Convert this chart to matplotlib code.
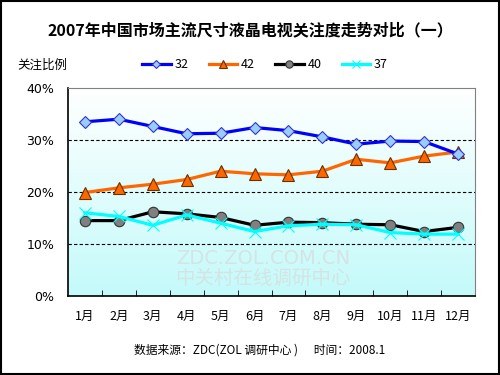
import numpy as np
import matplotlib.pyplot as plt
from matplotlib.colors import LinearSegmentedColormap

plt.rcParams['font.family'] = ['Noto Sans CJK SC', 'DejaVu Sans']

#---Data---
months = ['1月', '2月', '3月', '4月', '5月', '6月', '7月', '8月', '9月', '10月', '11月', '12月']
s32 = [33.5, 34.0, 32.6, 31.2, 31.3, 32.4, 31.8, 30.6, 29.2, 29.8, 29.7, 27.3]
s42 = [19.9, 20.8, 21.5, 22.4, 24.0, 23.5, 23.3, 24.0, 26.3, 25.6, 26.9, 27.7]
s40 = [14.5, 14.5, 16.2, 15.8, 15.1, 13.6, 14.2, 14.1, 13.8, 13.7, 12.4, 13.2]
s37 = [16.0, 15.3, 13.6, 15.6, 14.0, 12.4, 13.5, 13.8, 13.7, 12.2, 11.9, 11.9]
yticks = [0, 10, 20, 30, 40]

fig = plt.figure(figsize=(5, 3.75), dpi=100)
ax = fig.add_axes([68/500, 1-296/375, 407/500, 208/375])

x = np.arange(len(months))

#---Gradient background---
grad = np.linspace(0, 1, 256).reshape(-1, 1)
cm = LinearSegmentedColormap.from_list('bg', ['#c4fafa', '#ffffff'])
ax.imshow(grad, aspect='auto', cmap=cm, origin='lower',
          extent=[-0.5, 11.5, 0, 40], zorder=0)

#---Watermark---
ax.text(0.48, 0.18, 'ZDC.ZOL.COM.CN', transform=ax.transAxes, ha='center', va='center',
        fontsize=14, color='#d4e4e4', zorder=2, family='DejaVu Sans')
ax.text(0.48, 0.085, '中关村在线调研中心', transform=ax.transAxes, ha='center', va='center',
        fontsize=14, color='#d4e4e4', zorder=2)

ax.plot(x, s32, color='#0000ff', lw=2.3, marker='D', ms=6.5,
        mfc='#99ccff', mec='#3333cc', mew=0.8, label='32', zorder=5)
ax.plot(x, s42, color='#ff6600', lw=2.3, marker='^', ms=8,
        mfc='#ff6600', mec='#663300', mew=0.8, label='42', zorder=4)
ax.plot(x, s40, color='#000000', lw=2.3, marker='o', ms=7.5,
        mfc='#808080', mec='#333333', mew=0.8, label='40', zorder=3)
ax.plot(x, s37, color='#00ffff', lw=2.3, marker='x', ms=8,
        mec='#00ffff', mew=0.8, label='37', zorder=3)

ax.set_xlim(-0.5, 11.5)
ax.set_ylim(0, 40)
ax.set_yticks(yticks)
ax.set_yticklabels([f'{v}%' for v in yticks], fontsize=9, family='DejaVu Sans')
ax.tick_params(axis='y', length=0, pad=10)
ax.set_xticks(x)
ax.set_xticklabels(months, fontsize=9)
ax.tick_params(axis='x', length=0, pad=10)
ax.set_xticks(np.arange(0.5, 11, 1), minor=True)
ax.tick_params(axis='x', which='minor', direction='in', length=4, color='black')
for v in yticks[1:-1]:
    ax.axhline(v, color='black', lw=0.8, ls=(0, (3, 2)), zorder=1)

for s in ['top', 'right']:
    ax.spines[s].set_color('#808080')
for s in ['left', 'bottom']:
    ax.spines[s].set_color('black')
    ax.spines[s].set_linewidth(1.2)

#---Texts---
fig.text(0.5, 1-30/375, '2007年中国市场主流尺寸液晶电视关注度走势对比（一）',
         ha='center', va='center', fontsize=11.5, fontweight='bold')
fig.text(17/500, 1-65/375, '关注比例', ha='left', va='center', fontsize=9)
fig.legend(loc='center', bbox_to_anchor=(265/500, 1-65/375), ncol=4,
           frameon=False, fontsize=9, handlelength=2.3, columnspacing=1.6,
           handletextpad=0.3, markerscale=0.7)
fig.text(0.52, 1-350/375, '数据来源：ZDC(ZOL 调研中心 )      时间：2008.1',
         ha='center', va='center', fontsize=8.5)

#---Outer frame---
fig.patches.append(plt.Rectangle((0.002, 0.003), 0.995, 0.994, transform=fig.transFigure,
                                 fill=False, edgecolor='black', lw=1.5))

plt.savefig('out.png', dpi=100)
